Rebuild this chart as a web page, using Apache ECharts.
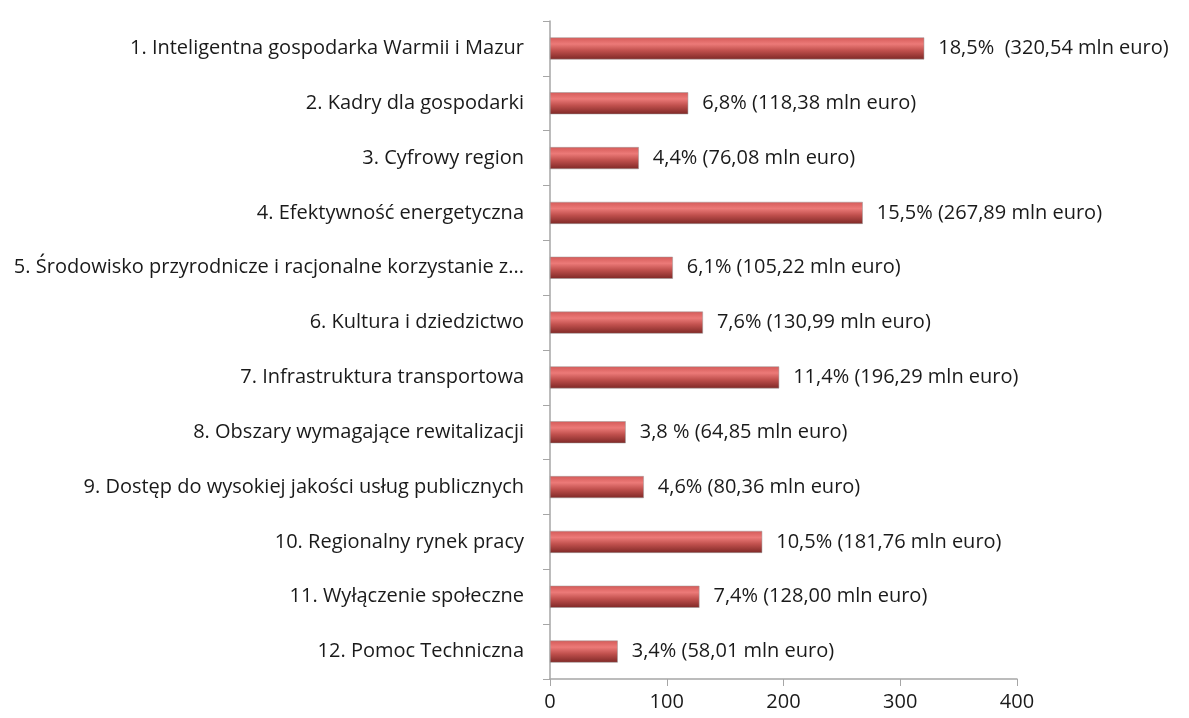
<!DOCTYPE html>
<html><head><meta charset="utf-8">
<script src="https://cdn.jsdelivr.net/npm/echarts@6/dist/echarts.min.js"></script>
<style>html,body{margin:0;padding:0;background:#fff}#c{width:1189px;height:718px}</style>
</head><body><div id="c"></div>
<script>
const categories = [
  "1. Inteligentna gospodarka Warmii i Mazur",
  "2. Kadry dla gospodarki",
  "3. Cyfrowy region",
  "4. Efektywność energetyczna",
  "5. Środowisko przyrodnicze i racjonalne korzystanie z...",
  "6. Kultura i dziedzictwo",
  "7. Infrastruktura transportowa",
  "8. Obszary wymagające rewitalizacji",
  "9. Dostęp do wysokiej jakości usług publicznych",
  "10. Regionalny rynek pracy",
  "11. Wyłączenie społeczne",
  "12. Pomoc Techniczna"
];
const values = [320.54, 118.38, 76.08, 267.89, 105.22, 130.99, 196.29, 64.85, 80.36, 181.76, 128.00, 58.01];
const valueLabels = [
  "18,5%  (320,54 mln euro)",
  "6,8% (118,38 mln euro)",
  "4,4% (76,08 mln euro)",
  "15,5% (267,89 mln euro)",
  "6,1% (105,22 mln euro)",
  "7,6% (130,99 mln euro)",
  "11,4% (196,29 mln euro)",
  "3,8 % (64,85 mln euro)",
  "4,6% (80,36 mln euro)",
  "10,5% (181,76 mln euro)",
  "7,4% (128,00 mln euro)",
  "3,4% (58,01 mln euro)"
];
const xTicks = [0, 100, 200, 300, 400];

const chart = echarts.init(document.getElementById('c'));
const font = '"Open Sans", sans-serif';
chart.setOption({
  animation: false,
  backgroundColor: '#ffffff',
  grid: { left: 550, right: 172, top: 21, bottom: 39 },
  xAxis: {
    type: 'value', min: xTicks[0], max: xTicks[xTicks.length - 1], interval: 100,
    axisLine: { show: true, lineStyle: { color: '#a6a6a6', width: 1.5 } },
    axisTick: { show: true, length: 7, lineStyle: { color: '#a6a6a6' } },
    splitLine: { show: false },
    axisLabel: { color: '#1a1a1a', fontSize: 20, fontFamily: font, margin: 13 }
  },
  yAxis: {
    type: 'category', data: categories, inverse: true,
    axisLine: { show: true, lineStyle: { color: '#a6a6a6', width: 1.5 } },
    axisTick: { show: true, length: 7, lineStyle: { color: '#a6a6a6' } },
    axisLabel: { color: '#1a1a1a', fontSize: 20, fontFamily: font, margin: 26 }
  },
  series: [{
    type: 'bar',
    data: values,
    barWidth: 22,
    itemStyle: {
      color: new echarts.graphic.LinearGradient(0, 0, 0, 1, [
        { offset: 0, color: '#d45a58' },
        { offset: 0.3, color: '#ec7a78' },
        { offset: 0.6, color: '#c0504d' },
        { offset: 1, color: '#7e2826' }
      ]),
      borderColor: '#9a9a9a', borderWidth: 0.5
    },
    label: {
      show: true, position: 'right', distance: 14,
      color: '#1a1a1a', fontSize: 20, fontFamily: font,
      formatter: p => valueLabels[p.dataIndex]
    }
  }]
});
</script></body></html>
